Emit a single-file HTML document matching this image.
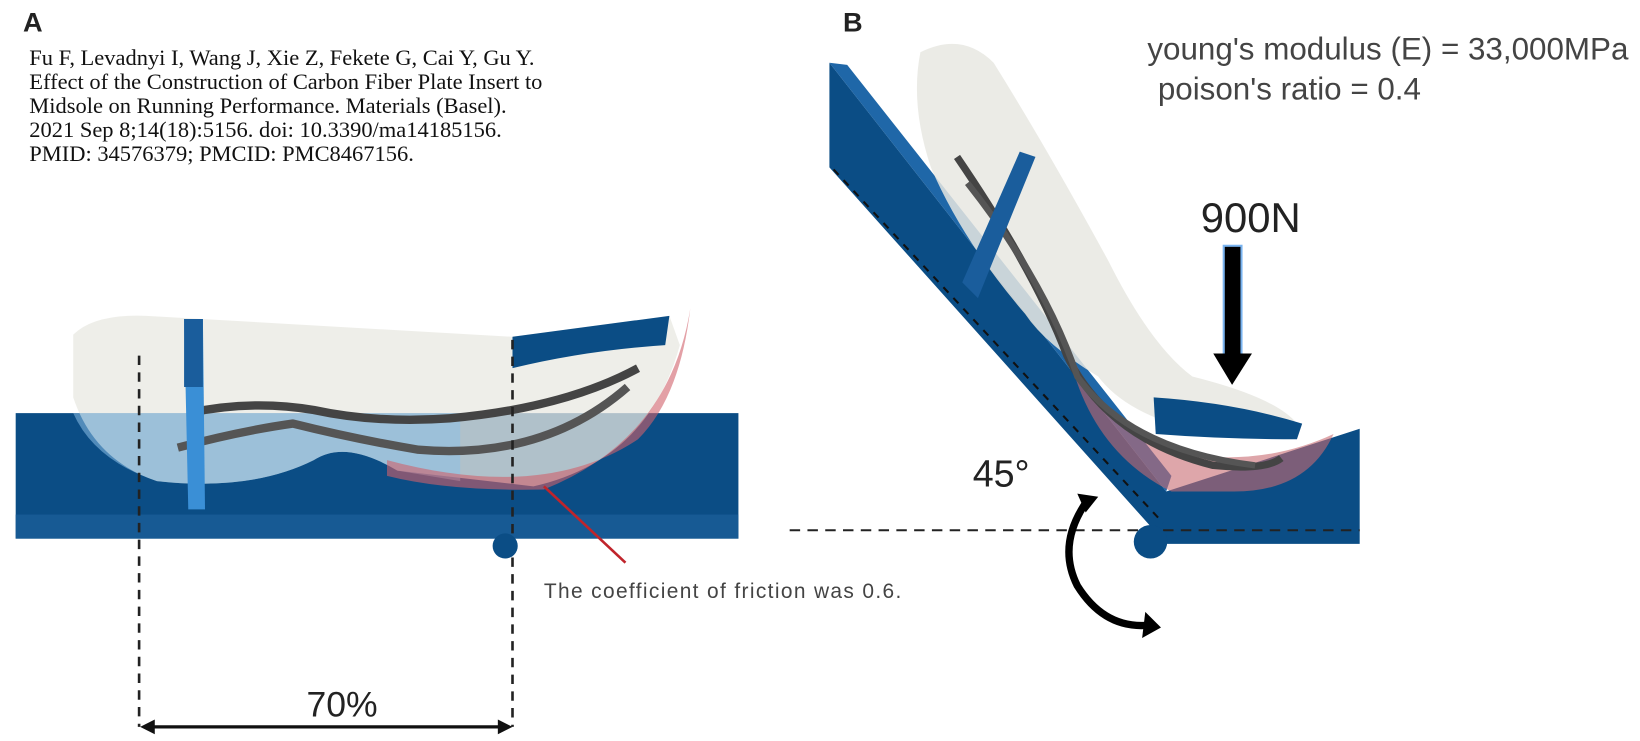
<!DOCTYPE html>
<html><head><meta charset="utf-8"><style>
body{margin:0;background:#fff;width:1640px;height:741px;overflow:hidden}
svg{display:block}
.c{font-family:"Liberation Serif",serif;font-size:21.5px;fill:#111}
.s{font-family:"Liberation Sans",sans-serif}
</style></head><body>
<svg width="1640" height="741" viewBox="0 0 1568 708.5" preserveAspectRatio="none">
<text x="22" y="30" class="s" font-size="26" font-weight="bold" fill="#222">A</text>
<text x="806" y="30" class="s" font-size="26" font-weight="bold" fill="#222">B</text>
<text class="c" x="28" y="62">Fu F, Levadnyi I, Wang J, Xie Z, Fekete G, Cai Y, Gu Y.</text>
<text class="c" x="28" y="85">Effect of the Construction of Carbon Fiber Plate Insert to</text>
<text class="c" x="28" y="108">Midsole on Running Performance. Materials (Basel).</text>
<text class="c" x="28" y="131">2021 Sep 8;14(18):5156. doi: 10.3390/ma14185156.</text>
<text class="c" x="28" y="154">PMID: 34576379; PMCID: PMC8467156.</text>

<!-- Panel A -->
<rect x="15" y="395" width="691" height="120" fill="#0b4d85"/>
<rect x="15" y="492" width="691" height="23" fill="#175a94"/>
<path d="M70 320 Q90 300 140 302 L490 322 L640 302 L650 330 Q620 440 510 465 L380 450 Q330 420 300 440 Q240 470 150 460 Q90 440 70 380 Z" fill="#e8e8e2" fill-opacity="0.75"/>
<path d="M70 395 Q90 440 150 460 Q240 470 300 440 Q330 420 380 450 L440 460 L440 395 Z" fill="#8cc0e6" fill-opacity="0.55"/>
<path d="M490 322 L640 302 L636 330 Q560 335 490 352 Z" fill="#0b4d85"/>
<path d="M370 440 Q520 480 610 420 Q650 380 660 295 Q640 420 520 468 Q430 470 370 455 Z" fill="#d0606a" fill-opacity="0.6"/>
<path d="M180 395 Q240 382 300 392 Q360 405 430 400 Q540 390 610 352" stroke="#444" stroke-width="8" fill="none"/>
<path d="M170 428 Q230 412 280 405 Q340 420 400 430 Q520 440 600 370" stroke="#555" stroke-width="8" fill="none"/>
<polygon points="176,305 194,305 196,487 180,487" fill="#3a8fd6"/>
<polygon points="176,305 194,305 194,370 176,370" fill="#1a5d9c"/>
<line x1="133" y1="340" x2="133" y2="695" stroke="#222" stroke-width="2.5" stroke-dasharray="9,7"/>
<line x1="490" y1="325" x2="490" y2="695" stroke="#222" stroke-width="2.5" stroke-dasharray="9,7"/>
<circle cx="483" cy="522" r="12" fill="#0b4d85"/>
<line x1="140" y1="695" x2="484" y2="695" stroke="#111" stroke-width="3"/>
<polygon points="134,695 148,688 148,702" fill="#111"/>
<polygon points="490,695 476,688 476,702" fill="#111"/>
<text x="293" y="685" class="s" font-size="34" fill="#222">70%</text>
<line x1="520" y1="465" x2="598" y2="538" stroke="#c0242b" stroke-width="2.5"/>
<text x="520" y="572" class="s" font-size="20" letter-spacing="1.3" fill="#444">The coefficient of friction was 0.6.</text>

<!-- Panel B -->
<polygon points="793,60 1115,470 1300,410 1300,520 1115,520 793,160" fill="#0b4d85"/>
<polygon points="793,60 810,62 1120,455 1115,470" fill="#1f67a8"/>
<path d="M880 50 Q920 30 950 60 Q1000 140 1060 250 Q1100 330 1140 360 Q1220 380 1240 405 L1160 415 Q1080 400 1050 360 Q1000 330 980 300 Q920 230 890 160 Q870 100 880 50 Z" fill="#e8e8e2" fill-opacity="0.85"/>
<path d="M1020 330 Q1050 400 1110 430 Q1200 450 1275 415 Q1250 470 1180 470 L1120 470 Q1040 430 1020 330 Z" fill="#c86a72" fill-opacity="0.6"/>
<path d="M915 150 Q990 260 1020 340 Q1060 420 1160 445 Q1210 450 1225 438" stroke="#444" stroke-width="7" fill="none"/>
<path d="M925 175 Q1000 270 1030 360 Q1080 430 1200 445" stroke="#555" stroke-width="6" fill="none"/>
<polygon points="920,270 975,145 990,150 935,285" fill="#1a5d9c"/>
<path d="M1103 380 Q1180 385 1245 405 L1240 420 Q1170 420 1105 415 Z" fill="#0b4d85"/>
<line x1="797" y1="162" x2="1112" y2="500" stroke="#111" stroke-width="2" stroke-dasharray="7,7"/>
<line x1="755" y1="507" x2="1300" y2="507" stroke="#222" stroke-width="2" stroke-dasharray="10,7"/>
<circle cx="1100" cy="518" r="16" fill="#0b4d85"/>
<text x="1148" y="222" class="s" font-size="40" fill="#222">900N</text>
<rect x="1170" y="235" width="17" height="105" fill="#000" stroke="#7ab4f0" stroke-width="2"/>
<polygon points="1160,338 1197,338 1178,368" fill="#000"/>
<text x="930" y="465" class="s" font-size="36" fill="#222">45°</text>
<path d="M1040 478 Q1010 520 1030 560 Q1055 600 1095 598" stroke="#000" stroke-width="7" fill="none"/>
<polygon points="1095,585 1110,600 1092,610" fill="#000"/>
<polygon points="1030,472 1050,475 1038,490" fill="#000"/>
<text x="1097" y="57" class="s" font-size="30" fill="#444">young's modulus (E) = 33,000MPa</text>
<text x="1107" y="95" class="s" font-size="30" fill="#444">poison's ratio = 0.4</text>
</svg>
</body></html>
